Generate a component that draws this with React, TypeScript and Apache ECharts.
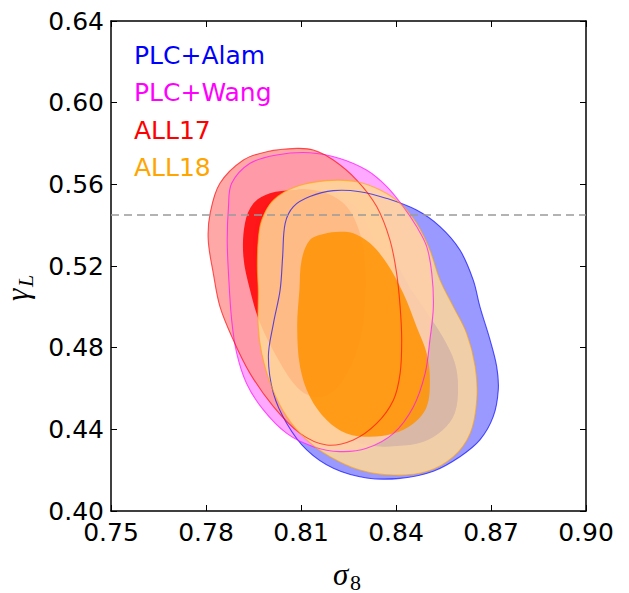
import React, { useEffect, useRef } from "react";
import * as echarts from "echarts";

// Axis ranges and ticks
const X_MIN = 0.75;
const X_MAX = 0.9;
const X_STEP = 0.03;
const Y_MIN = 0.4;
const Y_MAX = 0.64;
const Y_STEP = 0.04;
const GAMMA_REF = 0.545;

// Datasets
const NAMES = ["PLC+Alam", "PLC+Wang", "ALL17", "ALL18"];
const COLORS = ["#0000ff", "#ff00ff", "#ff0000", "#ffa500"];
const INNER = ["#0000ff", "#ff00ff", "#ff0000", "#ff9200"];
const PALE = ["#9999ff", "#ff99ff", "#ff9999", "#ffd899"];
const ALPHAS = [1, 0.85, 0.85, 0.85];

// Contours: [sigma8, gamma_L]
const blueOuter = [
  [0.8202, 0.5569], [0.8128, 0.554], [0.8076, 0.5491], [0.805, 0.5409], [0.8042, 0.5246],
  [0.8034, 0.5082], [0.8013, 0.4919], [0.7997, 0.4756], [0.8013, 0.4576], [0.8055, 0.4429],
  [0.8118, 0.4299], [0.8202, 0.4209], [0.8307, 0.4162], [0.8413, 0.416], [0.8518, 0.4195],
  [0.8602, 0.4266], [0.8665, 0.4348], [0.8707, 0.4462], [0.8723, 0.4593], [0.8718, 0.4707],
  [0.8697, 0.4838], [0.8665, 0.5001], [0.8644, 0.5131], [0.8602, 0.5278], [0.8539, 0.5393],
  [0.8465, 0.5474], [0.8371, 0.5531], [0.8286, 0.5564],
];
const blueInner = [
  [0.828, 0.535], [0.834, 0.533], [0.838, 0.527], [0.8413, 0.518], [0.845, 0.508],
  [0.849, 0.499], [0.8548, 0.4852], [0.8586, 0.4725], [0.8596, 0.4607], [0.8586, 0.448],
  [0.8548, 0.4397], [0.8485, 0.4338], [0.8403, 0.4318], [0.833, 0.4318], [0.826, 0.4345],
  [0.82, 0.44], [0.816, 0.448], [0.814, 0.46], [0.814, 0.48], [0.815, 0.5],
  [0.817, 0.515], [0.82, 0.527], [0.824, 0.534],
];
const magentaOuter = [
  [0.7881, 0.5605], [0.7939, 0.5703], [0.8023, 0.5744], [0.8128, 0.5755], [0.8223, 0.5727],
  [0.8307, 0.567], [0.8371, 0.5589], [0.8423, 0.5491], [0.8465, 0.5393], [0.8497, 0.5295],
  [0.8513, 0.5164], [0.8518, 0.5001], [0.8507, 0.4838], [0.8492, 0.4674], [0.8455, 0.4511],
  [0.8392, 0.438], [0.8307, 0.4307], [0.8223, 0.4291], [0.8139, 0.4315], [0.8055, 0.438],
  [0.7981, 0.4495], [0.7928, 0.4625], [0.7897, 0.4772], [0.7881, 0.4936], [0.7871, 0.5164],
  [0.7867, 0.5327], [0.7871, 0.5491],
];
const magentaInner = [
  [0.811, 0.556], [0.804, 0.5545], [0.7985, 0.5495], [0.7955, 0.54], [0.795, 0.524],
  [0.797, 0.507], [0.8005, 0.49], [0.806, 0.474], [0.812, 0.46], [0.818, 0.454],
  [0.824, 0.455], [0.829, 0.464], [0.833, 0.481], [0.8345, 0.501], [0.8345, 0.518],
  [0.8325, 0.534], [0.828, 0.5475], [0.8215, 0.5545], [0.816, 0.5565],
];
const redOuter = [
  [0.8086, 0.5776], [0.7992, 0.576], [0.7918, 0.5719], [0.7844, 0.5605], [0.7813, 0.5458],
  [0.7807, 0.5327], [0.7823, 0.5164], [0.7844, 0.5001], [0.7886, 0.4838], [0.7939, 0.4674],
  [0.8013, 0.4511], [0.8097, 0.438], [0.8181, 0.4323], [0.8265, 0.4348], [0.8339, 0.4429],
  [0.8392, 0.4544], [0.8413, 0.4674], [0.8418, 0.4838], [0.8413, 0.5001], [0.8402, 0.5164],
  [0.8381, 0.5327], [0.8339, 0.5491], [0.8276, 0.5621], [0.8202, 0.5719], [0.8139, 0.5768],
];
const redInner = [
  [0.8076, 0.5572], [0.8002, 0.5556], [0.795, 0.5507], [0.7923, 0.5409], [0.7918, 0.5246],
  [0.7939, 0.5082], [0.7971, 0.4919], [0.8023, 0.4756], [0.8086, 0.4609], [0.8139, 0.456],
  [0.8192, 0.4576], [0.8244, 0.4674], [0.8286, 0.4838], [0.8302, 0.5034], [0.8302, 0.5197],
  [0.8286, 0.536], [0.8244, 0.5491], [0.8181, 0.5556], [0.8118, 0.5576],
];
const orangeOuter = [
  [0.7962, 0.5197], [0.7965, 0.5327], [0.7976, 0.5425], [0.8013, 0.5523], [0.8086, 0.5589],
  [0.8181, 0.5618], [0.8276, 0.5613], [0.835, 0.5572], [0.8413, 0.5507], [0.8465, 0.5409],
  [0.8507, 0.5278], [0.8539, 0.5131], [0.8581, 0.5001], [0.8623, 0.487], [0.865, 0.4707],
  [0.8655, 0.4544], [0.8634, 0.438], [0.8581, 0.4266], [0.8497, 0.4193], [0.8392, 0.4176],
  [0.8286, 0.4201], [0.8192, 0.4266], [0.8118, 0.4348], [0.8055, 0.4462], [0.8007, 0.4609],
  [0.7976, 0.4772], [0.7965, 0.4903], [0.7965, 0.5082],
];
const orangeInner = [
  [0.8223, 0.5368], [0.8171, 0.5357], [0.8128, 0.5327], [0.8102, 0.5229], [0.8095, 0.5082],
  [0.8088, 0.4903], [0.8097, 0.4707], [0.8128, 0.456], [0.8181, 0.4446], [0.8244, 0.438],
  [0.8318, 0.4364], [0.8392, 0.438], [0.8455, 0.4429], [0.8497, 0.4511], [0.8507, 0.4642],
  [0.8497, 0.4772], [0.8465, 0.4903], [0.8423, 0.5066], [0.8371, 0.5213], [0.8318, 0.5311],
  [0.8265, 0.536],
];

const CONTOURS = [
  [blueOuter, blueInner],
  [magentaOuter, magentaInner],
  [redOuter, redInner],
  [orangeOuter, orangeInner],
];

const SMOOTH = 0.35;

function polySeries(name: string, pts: number[][], style: any, z: number) {
  return {
    type: "custom",
    name,
    coordinateSystem: "cartesian2d",
    xAxisIndex: 0,
    yAxisIndex: 0,
    silent: true,
    z,
    data: pts,
    renderItem: (params: any, api: any) => {
      if (params.dataIndex !== 0) return null;
      const points = pts.map((p) => api.coord(p));
      return {
        type: "polygon",
        shape: { points, smooth: SMOOTH },
        style,
      };
    },
  };
}

function axisCommon(show: boolean) {
  return {
    type: "value",
    axisLine: { show: true, onZero: false, lineStyle: { color: "#000", width: 1.5 } },
    axisTick: { show: true, inside: true, length: 6, lineStyle: { color: "#000", width: 1 } },
    splitLine: { show: false },
    axisLabel: {
      show,
      fontSize: 25,
      fontFamily: "DejaVu Sans",
      color: "#000",
      formatter: (v: number) => v.toFixed(2),
    },
  };
}

export default function App() {
  const ref = useRef<HTMLDivElement>(null);
  useEffect(() => {
    if (!ref.current) return;
    const chart = echarts.init(ref.current, null, { renderer: "svg" });

    const series: any[] = [];
    CONTOURS.forEach(([outer, inner], i) => {
      series.push(
        polySeries(NAMES[i], outer, { fill: PALE[i], opacity: ALPHAS[i] }, 2)
      );
      series.push(
        polySeries(NAMES[i], inner, { fill: INNER[i], opacity: ALPHAS[i] }, 2)
      );
    });
    CONTOURS.forEach(([outer], i) => {
      series.push(
        polySeries(
          NAMES[i],
          outer,
          { fill: "none", stroke: COLORS[i], lineWidth: 1.1, opacity: 0.65 },
          3
        )
      );
    });
    series.push({
      type: "line",
      name: "ref",
      silent: true,
      symbol: "none",
      z: 10,
      data: [
        [X_MIN, GAMMA_REF],
        [X_MAX, GAMMA_REF],
      ],
      lineStyle: { color: "#9a9a9a", width: 1.5, type: [8, 5] },
    });

    chart.setOption({
      animation: false,
      backgroundColor: "#fff",
      grid: { left: 111, top: 21, width: 475, height: 490, containLabel: false },
      legend: {
        show: true,
        orient: "vertical",
        left: 129,
        top: 40,
        padding: 0,
        itemGap: 7.5,
        itemWidth: 0,
        itemHeight: 0,
        icon: "rect",
        selectedMode: false,
        data: NAMES.map((n, i) => ({ name: n, textStyle: { color: COLORS[i] } })),
        textStyle: { fontSize: 25, fontFamily: "DejaVu Sans", lineHeight: 30 },
      },
      xAxis: [
        {
          ...axisCommon(true),
          position: "bottom",
          min: X_MIN,
          max: X_MAX,
          interval: X_STEP,
          axisLabel: { ...axisCommon(true).axisLabel, margin: 9 },
        },
        { ...axisCommon(false), position: "top", min: X_MIN, max: X_MAX, interval: X_STEP },
      ],
      yAxis: [
        {
          ...axisCommon(true),
          position: "left",
          min: Y_MIN,
          max: Y_MAX,
          interval: Y_STEP,
          axisLabel: { ...axisCommon(true).axisLabel, margin: 7 },
        },
        { ...axisCommon(false), position: "right", min: Y_MIN, max: Y_MAX, interval: Y_STEP },
      ],
      graphic: [
        {
          type: "text",
          x: 333,
          y: 574,
          style: {
            text: "σ",
            fontFamily: "Liberation Serif",
            fontStyle: "italic",
            fontSize: 31,
            fill: "#000",
            align: "left",
            verticalAlign: "middle",
          },
        },
        {
          type: "text",
          x: 350,
          y: 582,
          style: {
            text: "8",
            fontFamily: "Liberation Serif",
            fontSize: 22,
            fill: "#000",
            align: "left",
            verticalAlign: "middle",
          },
        },
        {
          type: "group",
          x: 26,
          y: 301,
          rotation: Math.PI / 2,
          children: [
            {
              type: "text",
              x: 0,
              y: -9,
              style: {
                text: "γ",
                fontFamily: "Liberation Serif",
                fontStyle: "italic",
                fontSize: 31,
                fill: "#000",
                align: "left",
                verticalAlign: "middle",
              },
            },
            {
              type: "text",
              x: 14,
              y: -1,
              style: {
                text: "L",
                fontFamily: "Liberation Serif",
                fontStyle: "italic",
                fontSize: 22,
                fill: "#000",
                align: "left",
                verticalAlign: "middle",
              },
            },
          ],
        },
      ],
      series,
    });
    return () => chart.dispose();
  }, []);

  return (
    <div
      ref={ref}
      style={{ position: "fixed", left: 0, top: 0, width: 629, height: 593, background: "#fff" }}
    />
  );
}
